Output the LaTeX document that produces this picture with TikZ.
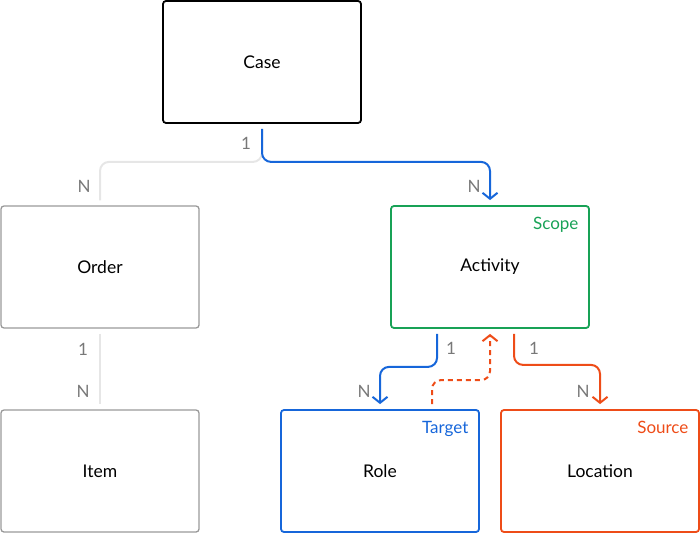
\documentclass[tikz,border=0pt]{standalone}
\usepackage{fontspec}
\setmainfont{Lato}
\usepackage{xcolor}
\usepackage{tikz}
\usetikzlibrary{calc,arrows.meta,positioning}
\definecolor{relblue}{RGB}{22,102,218}
\definecolor{relgreen}{RGB}{24,162,86}
\definecolor{relred}{RGB}{238,76,24}
\definecolor{relgray}{RGB}{230,230,230}
\definecolor{labgray}{RGB}{120,120,120}
\tikzset{
  entity/.style   = {draw, rounded corners=3pt, line width=1.8pt,
                     minimum width=198pt, minimum height=122pt,
                     font=\fontsize{17.5}{21}\selectfont},
  mainent/.style  = {entity, draw=black},
  greyent/.style  = {entity, draw=black!40, line width=1.3pt},
  rolelab/.style  = {anchor=north east, font=\fontsize{17}{20}\selectfont},
  card/.style     = {text=labgray, font=\fontsize{17}{20}\selectfont},
  rel/.style      = {line width=2pt, rounded corners=9pt,
                     shorten <=5pt, shorten >=5pt},
  relarrow/.style = {rel, -{Straight Barb[length=6pt,width=15pt,line width=2pt]}},
  faded/.style    = {rel, relgray},
}

\begin{document}
\begin{tikzpicture}[x=1pt, y=-1pt]
  \useasboundingbox (0,0) rectangle (700,534);
  % entities
  \node[mainent]                 (case)  at (262, 62)  {Case};
  \node[greyent]                 (order) at (100, 267) {Order};
  \node[greyent]                 (item)  at (100, 471) {Item};
  \node[entity, draw=relgreen]   (act)   at (490, 267) {Activity};
  \node[entity, draw=relblue]    (role)  at (380, 471) {Role};
  \node[entity, draw=relred]     (loc)   at (600, 471) {Location};
  % roles
  \node[rolelab, text=relgreen]  (scope)  at ([xshift=-8pt, yshift=-9pt]act.north east)  {Scope};
  \node[rolelab, text=relblue]   (target) at ([xshift=-8pt, yshift=-9pt]role.north east) {Target};
  \node[rolelab, text=relred]    (source) at ([xshift=-8pt, yshift=-9pt]loc.north east)  {Source};
  % relations
  \draw[faded] (case.south) -- ++(0,38) -| (order.north);
  \draw[relarrow, relblue] (case.south) -- ++(0,38) -| (act.north);
  \draw[faded] (order.south) -- (item.north);
  \draw[relarrow, relblue] ([xshift=-53pt]act.south) -- ++(0,38) -| (role.north);
  \draw[relarrow, relred] ([xshift=24pt]act.south) -- ++(0,36) -| (loc.north);
  \draw[relarrow, relred, dashed, dash pattern=on 5pt off 4pt]
    ([xshift=52pt]role.north) -- ++(0,-29) -| (act.south);
  % cardinalities
  \node[card] (c1) at (246, 143) {1};
  \node[card] (c2) at (84, 186)  {N};
  \node[card] (c3) at (474, 186) {N};
  \node[card] (c4) at (83, 349)  {1};
  \node[card] (c5) at (83, 391)  {N};
  \node[card] (c6) at (451, 348) {1};
  \node[card] (c7) at (364, 391) {N};
  \node[card] (c8) at (534, 348) {1};
  \node[card] (c9) at (583, 391) {N};
\end{tikzpicture}
\end{document}
